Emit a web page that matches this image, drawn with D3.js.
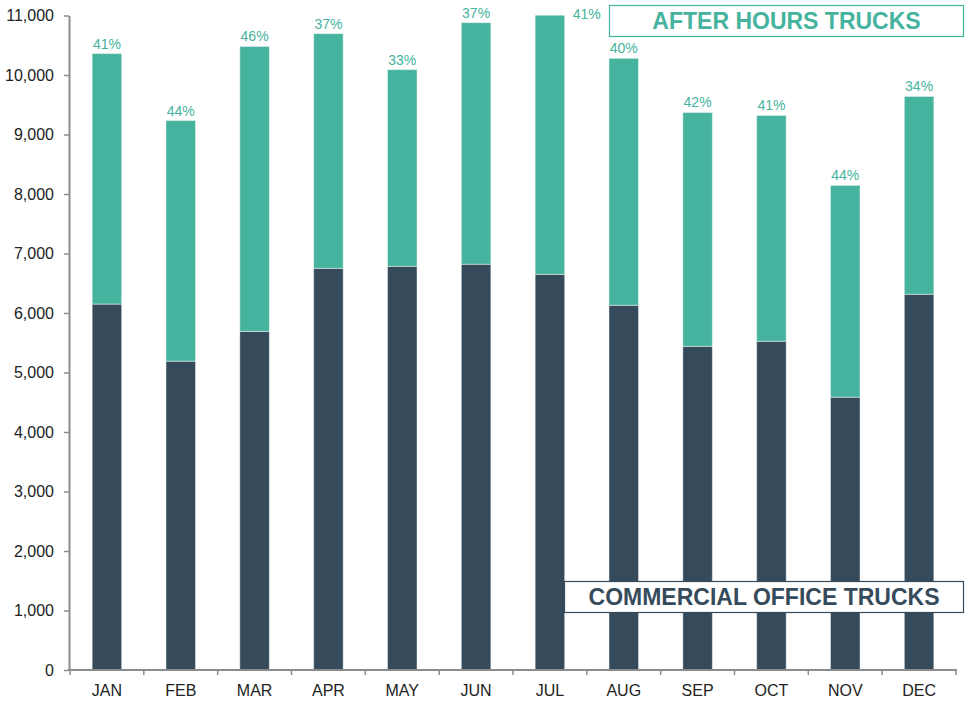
<!DOCTYPE html>
<html>
<head>
<meta charset="utf-8">
<script src="https://cdn.jsdelivr.net/npm/d3@7"></script>
<style>
  html, body { margin: 0; padding: 0; background: #fff; }
  svg { display: block; font-family: "Liberation Sans", Arial, sans-serif; }
</style>
</head>
<body>
<svg id="chart" width="965" height="709"></svg>
<script>
const months = ["JAN","FEB","MAR","APR","MAY","JUN","JUL","AUG","SEP","OCT","NOV","DEC"];
const commercialOffice = [6150, 5190, 5690, 6750, 6785, 6820, 6650, 6130, 5440, 5525, 4585, 6315];
const afterHours       = [4210, 4045, 4790, 3945, 3305, 4060, 4620, 4150, 3930, 3795, 3560, 3325];
const yTicks = [0,1000,2000,3000,4000,5000,6000,7000,8000,9000,10000,11000];
const yMax = 11000;
const seriesNames = ["AFTER HOURS TRUCKS", "COMMERCIAL OFFICE TRUCKS"];

const teal = "#45b39d";
const dark = "#354b5b";
const axisGray = "#8c8c8c";

const svg = d3.select("#chart");
const x = d3.scaleBand().domain(months).range([70, 956]).paddingInner(0.6).paddingOuter(0.3);
const y = d3.scaleLinear().domain([0, yMax]).range([670, 15.5]);

const data = months.map((m, i) => ({
  m, c: commercialOffice[i], a: afterHours[i], t: commercialOffice[i] + afterHours[i]
}));

svg.append("clipPath").attr("id", "plot")
  .append("rect").attr("x", 70).attr("y", y(yMax)).attr("width", 900).attr("height", y(0) - y(yMax));

const bars = svg.append("g").attr("clip-path", "url(#plot)");
// commercial (bottom)
bars.selectAll("rect.c").data(data).join("rect").attr("class", "c")
  .attr("x", d => x(d.m)).attr("width", x.bandwidth())
  .attr("y", d => y(d.c)).attr("height", d => y(0) - y(d.c))
  .attr("fill", dark).attr("stroke", "#ffffff").attr("stroke-opacity", 0.45).attr("stroke-width", 1);
// after hours (top)
bars.selectAll("rect.a").data(data).join("rect").attr("class", "a")
  .attr("x", d => x(d.m)).attr("width", x.bandwidth())
  .attr("y", d => y(d.t)).attr("height", d => y(d.c) - y(d.t))
  .attr("fill", teal).attr("stroke", "#ffffff").attr("stroke-opacity", 0.45).attr("stroke-width", 1);

// percentage labels
svg.append("g").selectAll("text").data(data).join("text")
  .attr("x", d => d.t > yMax ? x(d.m) + x.bandwidth() + 8 : x(d.m) + x.bandwidth() / 2)
  .attr("y", d => d.t > yMax ? y(yMax) + 3 : y(d.t) - 5)
  .attr("text-anchor", d => d.t > yMax ? "start" : "middle")
  .attr("font-size", 14).attr("fill", teal)
  .text(d => Math.round(d.a / d.t * 100) + "%");

// Y axis
const yAxis = svg.append("g").attr("transform", "translate(69,0)")
  .call(d3.axisLeft(y).tickValues(yTicks).tickFormat(d3.format(",")).tickSize(5).tickSizeOuter(0).tickPadding(10));
yAxis.select(".domain").attr("stroke", axisGray).attr("stroke-width", 2);
yAxis.selectAll(".tick line").attr("stroke", axisGray).attr("stroke-width", 1.5);
yAxis.selectAll(".tick text").attr("font-size", 16).attr("fill", "#222")
  .attr("font-family", "Liberation Sans, Arial, sans-serif");

// X axis
const xAxis = svg.append("g").attr("transform", "translate(0,670)");
xAxis.append("line").attr("x1", 68).attr("x2", 957).attr("y1", 0).attr("y2", 0)
  .attr("stroke", axisGray).attr("stroke-width", 2);
const bounds = months.map(m => x(m) - x.step() * x.paddingOuter()).concat([x.range()[1]]);
xAxis.selectAll("line.t").data(bounds).join("line").attr("class", "t")
  .attr("x1", d => d).attr("x2", d => d).attr("y1", 0).attr("y2", 5)
  .attr("stroke", axisGray).attr("stroke-width", 1.5);
xAxis.selectAll("text").data(months).join("text")
  .attr("x", d => x(d) + x.bandwidth() / 2).attr("y", 26)
  .attr("text-anchor", "middle").attr("font-size", 16).attr("fill", "#222")
  .text(d => d);

// Legend boxes
const legends = [
  { name: seriesNames[0], color: teal, x: 609.5, y: 5.5, w: 354, h: 31 },
  { name: seriesNames[1], color: dark, x: 564.5, y: 581.5, w: 399, h: 31 }
];
const lg = svg.append("g").selectAll("g").data(legends).join("g");
lg.append("rect").attr("x", d => d.x).attr("y", d => d.y).attr("width", d => d.w).attr("height", d => d.h)
  .attr("fill", "#fff").attr("stroke", d => d.color).attr("stroke-width", 1.2);
lg.append("text").attr("x", d => d.x + d.w / 2).attr("y", d => d.y + d.h / 2 + 8)
  .attr("text-anchor", "middle").attr("font-size", 23).attr("font-weight", "bold")
  .attr("fill", d => d.color).text(d => d.name);
</script>
</body>
</html>
